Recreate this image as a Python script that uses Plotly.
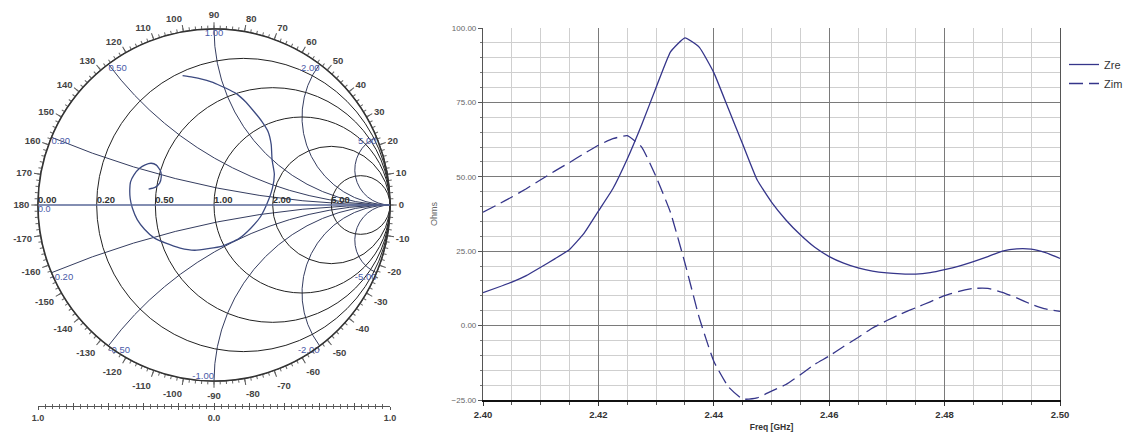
import plotly.graph_objects as go
import numpy as np

# ---------------- data ----------------
freq_ghz = [2.4000, 2.4025, 2.4050, 2.4075, 2.4100, 2.4125, 2.4150, 2.4175, 2.4200, 2.4225,
            2.4250, 2.4275, 2.4300, 2.4325, 2.4350, 2.4375, 2.4400, 2.4425, 2.4450, 2.4475,
            2.4500, 2.4525, 2.4550, 2.4575, 2.4600, 2.4625, 2.4650, 2.4675, 2.4700, 2.4725,
            2.4750, 2.4775, 2.4800, 2.4825, 2.4850, 2.4875, 2.4900, 2.4925, 2.4950, 2.4975,
            2.5000]
zre_ohm = [11.1, 12.8, 14.6, 16.8, 19.6, 22.5, 25.6, 31.0, 38.5, 46.0,
           56.0, 67.5, 80.0, 92.0, 96.7, 93.5, 85.0, 73.0, 61.0, 49.0,
           41.5, 35.5, 30.5, 26.3, 23.2, 21.0, 19.4, 18.3, 17.7, 17.4,
           17.3, 17.8, 18.8, 20.0, 21.5, 23.2, 25.0, 25.8, 25.7, 24.5,
           22.6]
zim_ohm = [38.1, 40.6, 43.2, 46.0, 49.0, 52.0, 54.8, 57.8, 60.6, 62.8,
           63.8, 60.0, 50.0, 38.0, 21.0, 2.5, -12.0, -20.5, -24.7, -24.3,
           -22.0, -19.8, -16.5, -13.0, -10.2, -7.0, -4.0, -0.8, 1.7, 4.0,
           6.0, 8.0, 10.1, 11.5, 12.5, 12.5, 11.2, 9.3, 7.2, 5.6,
           4.8]
z0_ohm = 50.0

smith_grid_vals = [0.2, 0.5, 1.0, 2.0, 5.0]
real_labels = ["0.00", "0.20", "0.50", "1.00", "2.00", "5.00"]
real_label_vals = [0.0, 0.2, 0.5, 1.0, 2.0, 5.0]
imag_label_vals = [1.0, 0.5, 2.0, 0.2, 5.0, -1.0, -0.5, -2.0, -0.2, -5.0]
imag_labels = ["1.00", "0.50", "2.00", "0.20", "5.00", "-1.00", "-0.50", "-2.00", "-0.20", "-5.00"]
angle_ticks = list(range(0, 360, 10))
angle_labels = [str(a if a <= 180 else a - 360) for a in angle_ticks]
ruler_major = [-1.0, -0.8, -0.6, -0.4, -0.2, 0.0, 0.2, 0.4, 0.6, 0.8, 1.0]
ruler_text = ["1.0", "", "", "", "", "0.0", "", "", "", "", "1.0"]

# ---------------- geometry helpers ----------------
W, H = 1137, 439
def fx(p):
    return p / W
def fy(p):
    return 1 - p / H

smith_dom = dict(x=[fx(38), fx(390)], y=[fy(381), fy(29)])

z_real = [r / z0_ohm for r in zre_ohm]
z_imag = [x / z0_ohm for x in zim_ohm]

line_col = "#35358a"
fig = go.Figure()

# Smith chart data curve
fig.add_trace(go.Scattersmith(real=z_real, imag=z_imag, mode="lines",
                              line=dict(color="#3c4a80", width=1.3, shape="spline", smoothing=0.5),
                              subplot="smith", showlegend=False, hoverinfo="skip"))
# real-axis labels
fig.add_trace(go.Scattersmith(real=real_label_vals, imag=[0.0] * len(real_label_vals),
                              mode="text", text=real_labels, textposition="top right",
                              textfont=dict(family="Liberation Sans", size=9.5, color="#333", weight="bold"),
                              subplot="smith", showlegend=False, hoverinfo="skip"))
fig.add_trace(go.Scattersmith(real=[0.0], imag=[0.0], mode="text", text=["0.0"],
                              textposition="bottom right",
                              textfont=dict(family="Liberation Sans", size=9, color="#4a5aa8"),
                              subplot="smith", showlegend=False, hoverinfo="skip"))
# reactance labels
imag_pos = ["bottom center", "bottom right", "bottom left", "bottom right", "bottom left",
            "top left", "bottom right", "bottom left", "bottom right", "bottom left"]
fig.add_trace(go.Scattersmith(real=[0.0] * len(imag_label_vals), imag=imag_label_vals,
                              mode="text", text=imag_labels, textposition=imag_pos,
                              textfont=dict(family="Liberation Sans", size=9.5, color="#4a5aa8"),
                              subplot="smith", showlegend=False, hoverinfo="skip"))

# polar overlays for the angle scale
fig.add_trace(go.Scatterpolar(r=[], theta=[], subplot="polar", showlegend=False, hoverinfo="skip"))
fig.add_trace(go.Scatterpolar(r=[], theta=[], subplot="polar2", showlegend=False, hoverinfo="skip"))
# ruler axes (no marks)
fig.add_trace(go.Scatter(x=[], y=[], xaxis="x2", yaxis="y2", showlegend=False, hoverinfo="skip"))
fig.add_trace(go.Scatter(x=[], y=[], xaxis="x3", yaxis="y2", showlegend=False, hoverinfo="skip"))

# right chart
fig.add_trace(go.Scatter(x=freq_ghz, y=zre_ohm, mode="lines", name="Zre",
                         line=dict(color=line_col, width=1.3, shape="spline", smoothing=0.4),
                         xaxis="x", yaxis="y"))
fig.add_trace(go.Scatter(x=freq_ghz, y=zim_ohm, mode="lines", name="Zim",
                         line=dict(color=line_col, width=1.3, dash="14px,6px", shape="spline", smoothing=0.4),
                         xaxis="x", yaxis="y"))

grid_dark = "#7a7a7a"
grid_light = "#cfcfcf"

fig.update_layout(
    template="none",
    width=W, height=H, autosize=False,
    margin=dict(l=0, r=0, t=0, b=0),
    paper_bgcolor="white", plot_bgcolor="white",
    font=dict(family="Liberation Sans", color="#333"),
    smith=dict(
        domain=smith_dom,
        bgcolor="white",
        realaxis=dict(tickvals=smith_grid_vals, showticklabels=False, ticks="",
                      gridcolor="#222", gridwidth=1.3, showline=True,
                      linecolor="#5a6898", linewidth=1.6),
        imaginaryaxis=dict(tickvals=[-5, -2, -1, -0.5, -0.2, 0.2, 0.5, 1, 2, 5],
                           showticklabels=False, ticks="",
                           gridcolor="#353d60", gridwidth=1.3, showline=True,
                           linecolor="#333", linewidth=1.5),
    ),
    polar=dict(
        domain=smith_dom, bgcolor="rgba(0,0,0,0)",
        radialaxis=dict(visible=False, range=[0, 1]),
        angularaxis=dict(rotation=0, direction="counterclockwise", tickmode="array",
                         tickvals=angle_ticks, ticktext=angle_labels, ticks="outside",
                         ticklen=6, tickwidth=1, tickcolor="#555", showgrid=False,
                         showline=True, linecolor="#333", linewidth=1.5,
                         tickfont=dict(size=9.5, color="#444", weight="bold")),
    ),
    polar2=dict(
        domain=smith_dom, bgcolor="rgba(0,0,0,0)",
        radialaxis=dict(visible=False, range=[0, 1]),
        angularaxis=dict(rotation=0, direction="counterclockwise", tickmode="linear",
                         tick0=0, dtick=2, ticks="outside", ticklen=3, tickwidth=0.8,
                         tickcolor="#666", showgrid=False, showline=False,
                         showticklabels=False),
    ),
    xaxis=dict(domain=[fx(483), fx(1060)], range=[2.4, 2.5], anchor="y",
               tick0=2.4, dtick=0.02, tickformat=".2f", ticks="outside", ticklen=4,
               tickcolor="#333", showgrid=True, gridcolor=grid_dark, gridwidth=1,
               minor=dict(dtick=0.005, showgrid=True, gridcolor=grid_light, gridwidth=1,
                          ticks="outside", ticklen=3, tickcolor="#555"),
               showline=True, linecolor="#111", linewidth=2.2, mirror=False,
               zeroline=False, automargin=False,
               tickfont=dict(size=9.5, color="#333", weight="bold"),
               title=dict(text="Freq [GHz]", font=dict(size=8.5, color="#333", weight="bold"),
                          standoff=6)),
    yaxis=dict(domain=[fy(400), fy(28)], range=[-25, 100], anchor="x",
               tick0=0, dtick=25, tickformat=".2f", ticks="outside", ticklen=4,
               tickcolor="#555", showgrid=True, gridcolor=grid_dark, gridwidth=1,
               minor=dict(dtick=5, showgrid=True, gridcolor=grid_light, gridwidth=1,
                          ticks="outside", ticklen=2, tickcolor="#777"),
               showline=True, linecolor="#555", linewidth=1.2, mirror=True,
               zeroline=False, automargin=False,
               tickfont=dict(size=8, color="#666"),
               title=dict(text="Ohms", font=dict(size=9, color="#666"), standoff=12)),
    xaxis2=dict(domain=smith_dom["x"], range=[-1, 1], anchor="y2",
                tickmode="array", tickvals=ruler_major, ticktext=ruler_text,
                ticks="outside", ticklen=3, tickcolor="#555", tickwidth=1,
                minor=dict(dtick=0.04, tick0=-1, ticks="outside", ticklen=2, tickcolor="#666"),
                showline=True, linecolor="#555", linewidth=1, showgrid=False,
                zeroline=False, automargin=False, fixedrange=True,
                tickfont=dict(size=9, color="#444", weight="bold")),
    xaxis3=dict(domain=smith_dom["x"], range=[-1, 1], anchor="y2", overlaying="x2",
                tickmode="array", tickvals=ruler_major, ticks="inside", ticklen=3,
                tickcolor="#555", tickwidth=1,
                minor=dict(dtick=0.04, tick0=-1, ticks="inside", ticklen=2, tickcolor="#666"),
                showline=False, showgrid=False, showticklabels=False, zeroline=False,
                automargin=False, fixedrange=True),
    yaxis2=dict(domain=[fy(406), fy(403)], range=[0, 1], anchor="x2", visible=False,
                fixedrange=True),
    legend=dict(x=fx(1064), y=fy(50), xanchor="left", yanchor="top",
                bgcolor="rgba(0,0,0,0)", font=dict(size=11, color="#333"),
                tracegroupgap=0, itemwidth=30),
    showlegend=True,
)

fig.write_html("out.html")
